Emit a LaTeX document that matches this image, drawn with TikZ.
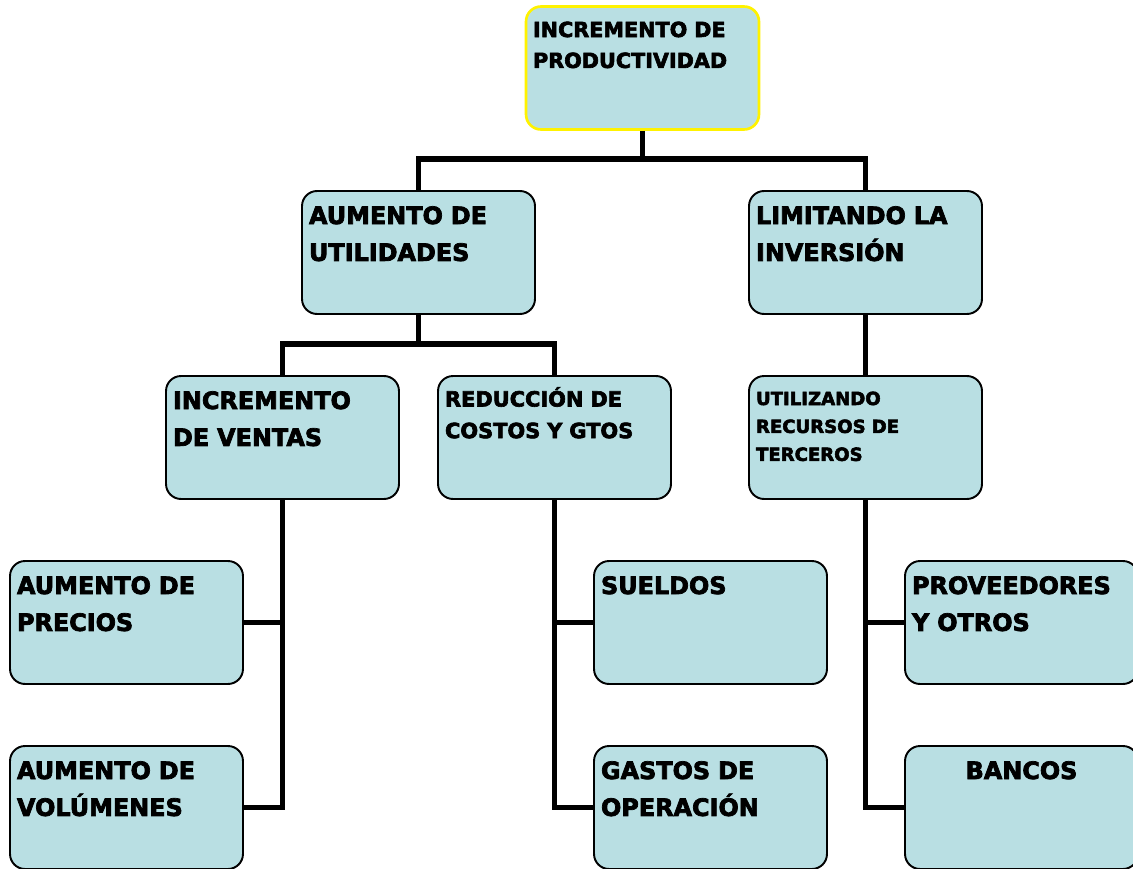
\documentclass[tikz,border=0pt]{standalone}
\usepackage{fontspec}
\setmainfont{DejaVu Sans}[BoldFeatures={FakeBold=3}]
\usepackage{tikz}
\definecolor{boxblue}{HTML}{B9DFE3}
\tikzstyle{block} = [rectangle, rounded corners=0.3cm, draw=black, line width=1.1pt, fill=boxblue, text width=4.38cm, align=left, inner xsep=0.14cm, inner ysep=0.2cm, font=\bfseries\fontsize{13.6pt}{21pt}\selectfont, text height=0.46cm, text depth=1.6cm]
\tikzstyle{txtmid} = [font=\bfseries\fontsize{11.9pt}{18pt}\selectfont, text height=0.41cm, text depth=1.65cm]
\tikzstyle{txtsmall} = [font=\bfseries\fontsize{10.3pt}{15.9pt}\selectfont, text height=0.38cm, text depth=1.68cm]
\tikzstyle{line} = [line width=3.2pt, black]

\begin{document}
\begin{tikzpicture}[x=0.02cm, y=-0.02cm]
    \useasboundingbox (0,0) rectangle (1133,869);
    % boxes
    \node (prod) [block, txtmid, draw=yellow, line width=1.5pt, font=\bfseries\fontsize{11.8pt}{17.6pt}\selectfont] at (642.5,68) {INCREMENTO DE\\PRODUCTIVIDAD};
    \node (util) [block] at (418.5,252.5) {AUMENTO DE\\UTILIDADES};
    \node (inv) [block] at (865.5,252.5) {LIMITANDO LA\\INVERSIÓN};
    \node (ventas) [block] at (282.5,437.5) {INCREMENTO\\DE VENTAS};
    \node (costos) [block, txtmid] at (554.5,437.5) {REDUCCIÓN DE\\COSTOS Y GTOS};
    \node (terceros) [block, txtsmall] at (865.5,437.5) {UTILIZANDO\\RECURSOS DE\\TERCEROS};
    \node (precios) [block] at (126.5,622.5) {AUMENTO DE\\PRECIOS};
    \node (volum) [block] at (126.5,807.5) {AUMENTO DE\\VOLÚMENES};
    \node (sueldos) [block] at (710.5,622.5) {SUELDOS};
    \node (gastos) [block] at (710.5,807.5) {GASTOS DE\\OPERACIÓN};
    \node (provee) [block] at (1021.5,622.5) {PROVEEDORES\\Y OTROS};
    \node (bancos) [block, align=center] at (1021.5,807.5) {BANCOS};
    % connectors
    \draw [line] (prod.south) -- ++(0,31);
    \draw [line] (util.north) -- ++(0,-31) -| (inv.north);
    \draw [line] (util.south) -- ++(0,31);
    \draw [line] (ventas.north) -- ++(0,-31) -| (costos.north);
    \draw [line] (inv.south) -- (terceros.north);
    \draw [line] (ventas.south) |- (volum.east);
    \draw [line] (precios.east) -- (precios.east -| ventas.south);
    \draw [line] (costos.south) |- (gastos.west);
    \draw [line] (sueldos.west) -- (sueldos.west -| costos.south);
    \draw [line] (terceros.south) |- (bancos.west);
    \draw [line] (provee.west) -- (provee.west -| terceros.south);
\end{tikzpicture}
\end{document}
